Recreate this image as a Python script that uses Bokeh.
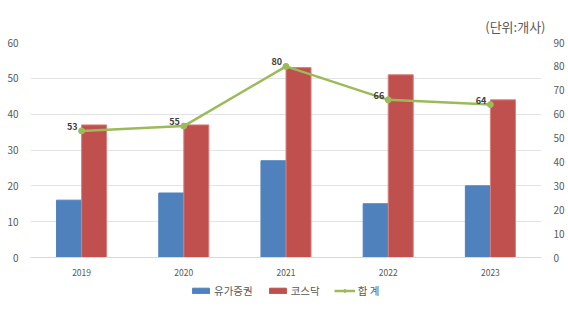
from bokeh.plotting import figure
from bokeh.models import (ColumnDataSource, Range1d, LinearAxis, FactorRange, LabelSet,
                          Legend, LegendItem, Title, SingleIntervalTicker)
from bokeh.layouts import column
from bokeh.transform import dodge
from bokeh.core.properties import value
from bokeh.embed import file_html
from bokeh.resources import INLINE

years = ["2019", "2020", "2021", "2022", "2023"]
kospi = [16, 18, 27, 15, 20]          # 유가증권
kosdaq = [37, 37, 53, 51, 44]         # 코스닥
total = [53, 55, 80, 66, 64]          # 합 계
series_names = ["유가증권", "코스닥", "합 계"]

FONT = "Noto Sans CJK KR"
BLUE, RED, GREEN = "#4F81BD", "#C0504D", "#9BBB59"
src = ColumnDataSource(dict(year=years, kospi=kospi, kosdaq=kosdaq, total=total,
                            lbl=[str(v) for v in total]))

p = figure(width=568, height=280, x_range=FactorRange(*years), y_range=Range1d(0, 60),
           output_backend="svg", toolbar_location=None,
           min_border_left=30, min_border_right=27, min_border_top=42, min_border_bottom=23)
p.extra_y_ranges = {"tot": Range1d(0, 90)}
p.x_range.range_padding = 0
p.outline_line_color = None
p.background_fill_color = "white"
p.border_fill_color = "white"

p.vbar(x=dodge("year", -0.1225, range=p.x_range), top="kospi", width=0.245, source=src,
       fill_color=BLUE, line_color=BLUE)
p.vbar(x=dodge("year", 0.1225, range=p.x_range), top="kosdaq", width=0.245, source=src,
       fill_color=RED, line_color="#D9827F")
p.line(x="year", y="total", source=src, y_range_name="tot", line_color=GREEN, line_width=2.5)
p.scatter(x="year", y="total", source=src, y_range_name="tot", size=6,
          fill_color=GREEN, line_color=GREEN)

labels = LabelSet(x="year", y="total", text="lbl", source=src, y_range_name="tot",
                  text_align="right", text_baseline="bottom", x_offset=-4, y_offset=1,
                  text_font=value(FONT), text_font_size="9px", text_font_style="bold",
                  text_color="#404040")
p.add_layout(labels)

# axes
p.yaxis.ticker = SingleIntervalTicker(interval=10)
ra = LinearAxis(y_range_name="tot", ticker=SingleIntervalTicker(interval=10))
p.add_layout(ra, "right")
for ax in [p.yaxis[0], ra]:
    ax.axis_line_color = None
    ax.major_tick_line_color = None
    ax.minor_tick_line_color = None
    ax.major_label_text_font = FONT
    ax.major_label_text_font_size = "10px"
    ax.major_label_text_color = "#595959"
    ax.major_label_standoff = 6
xa = p.xaxis[0]
xa.axis_line_color = "#D9D9D9"
xa.major_tick_line_color = None
xa.major_label_text_font = FONT
xa.major_label_text_font_size = "8.5px"
xa.major_label_text_color = "#595959"
xa.major_label_standoff = 5
p.xgrid.grid_line_color = None
p.ygrid.grid_line_color = "#E3E3E3"

# title (unit)
t = Title(text="(단위:개사)", align="right", text_font=FONT, text_font_size="13px",
          text_font_style="normal", text_color="#595959", offset=-4, standoff=14)
p.add_layout(t, "above")

# legend in a separate strip below the chart (proxy glyphs placed outside the view)
lg = figure(width=568, height=22, x_range=Range1d(0, 1), y_range=Range1d(0, 1),
            output_backend="svg", toolbar_location=None, min_border=0)
lg.axis.visible = False
lg.grid.visible = False
lg.outline_line_color = None
proxy = ColumnDataSource(dict(x=[-10, -11], y=[-10, -11]))
r1 = lg.vbar(x="x", top="y", width=0.1, source=proxy, fill_color=BLUE, line_color=BLUE)
r2 = lg.vbar(x="x", top="y", width=0.1, source=proxy, fill_color=RED, line_color=RED)
r3 = lg.line(x="x", y="y", source=proxy, line_color=GREEN, line_width=2.5)
r4 = lg.scatter(x="x", y="y", source=proxy, size=5, fill_color=GREEN, line_color=GREEN)
legend = Legend(items=[LegendItem(label=series_names[0], renderers=[r1]),
                       LegendItem(label=series_names[1], renderers=[r2]),
                       LegendItem(label=series_names[2], renderers=[r3, r4])],
                orientation="horizontal", location=(160, 4),
                label_text_font=FONT, label_text_font_size="10.5px", label_text_color="#595959",
                glyph_width=21, glyph_height=7, spacing=14, label_standoff=3,
                label_height=14, border_line_color=None, background_fill_alpha=0,
                padding=0, margin=0)
lg.add_layout(legend)

layout = column(p, lg, spacing=0)
open("out.html", "w").write(file_html(layout, INLINE))
